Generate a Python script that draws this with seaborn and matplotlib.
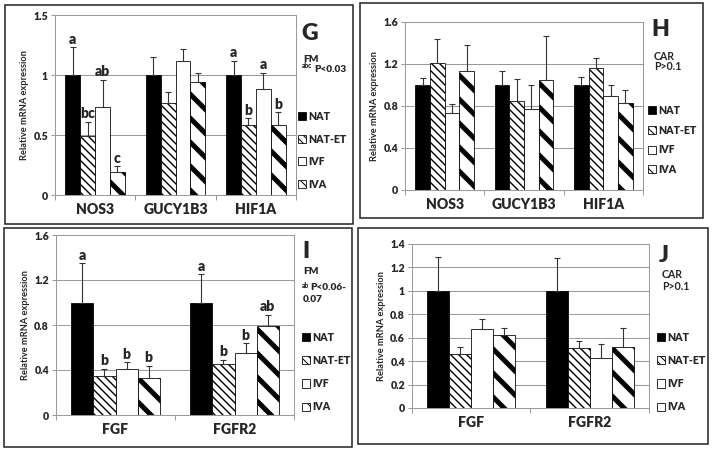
import numpy as np
import pandas as pd
import seaborn as sns
import matplotlib
matplotlib.use("Agg")
from matplotlib import pyplot as plt
from matplotlib.patches import Patch, Rectangle

# ---- data ----
groups = ["NAT", "NAT-ET", "IVF", "IVA"]
genes_gh = ["NOS3", "GUCY1B3", "HIF1A"]
genes_ij = ["FGF", "FGFR2"]

# panel G (FM) - rows follow groups
g_mean = [[1.00, 1.00, 1.00], [0.49, 0.77, 0.58], [0.73, 1.12, 0.88], [0.19, 0.94, 0.58]]
g_se = [[0.23, 0.15, 0.12], [0.12, 0.09, 0.06], [0.23, 0.10, 0.14], [0.05, 0.08, 0.11]]
g_letters = [["a", "", "a"], ["bc", "", "b"], ["ab", "", "a"], ["c", "", "b"]]

# panel H (CAR)
h_mean = [[1.00, 1.00, 1.00], [1.21, 0.85, 1.16], [0.73, 0.77, 0.90], [1.13, 1.05, 0.83]]
h_se = [[0.07, 0.13, 0.08], [0.23, 0.21, 0.10], [0.09, 0.23, 0.10], [0.25, 0.42, 0.12]]

# panel I (FM)
i_mean = [[1.00, 1.00], [0.35, 0.45], [0.41, 0.55], [0.33, 0.79]]
i_se = [[0.35, 0.25], [0.06, 0.04], [0.06, 0.09], [0.11, 0.10]]
i_letters = [["a", "a"], ["b", "b"], ["b", "b"], ["b", "ab"]]

# panel J (CAR)
j_mean = [[1.00, 1.00], [0.465, 0.51], [0.675, 0.43], [0.62, 0.52]]
j_se = [[0.29, 0.28], [0.055, 0.06], [0.085, 0.115], [0.06, 0.16]]

g_yticks = [0, 0.5, 1, 1.5]
h_yticks = [0, 0.4, 0.8, 1.2, 1.6]
i_yticks = [0, 0.4, 0.8, 1.2, 1.6]
j_yticks = [0, 0.2, 0.4, 0.6, 0.8, 1, 1.2, 1.4]

# ---- style ----
sns.set_theme(style="white")
plt.rcParams["font.family"] = ["Lato", "DejaVu Sans"]
BOLD = "heavy"

W, H = 714, 452
DPI = 72
fig = plt.figure(figsize=(W / DPI, H / DPI), dpi=DPI)

palette = {"NAT": "black", "NAT-ET": "white", "IVF": "white", "IVA": "white"}
hatches = {"NAT": "", "NAT-ET": "\\\\\\", "IVF": "", "IVA": "\\"}
hatch_lw = {"NAT": 1, "NAT-ET": 1.4, "IVF": 1, "IVA": 5.0}
GRID = "#9a9a9a"


def add_ax(l, t, r, b):
    return fig.add_axes([l / W, 1 - b / H, (r - l) / W, (b - t) / H])


def set_hlw(p, lw):
    if hasattr(p, "set_hatch_linewidth"):
        p.set_hatch_linewidth(lw)


def panel(ax, genes, means, ses, yticks, ylabels, letters=None):
    rows = []
    for gi, grp in enumerate(groups):
        for ci, gene in enumerate(genes):
            rows.append({"gene": gene, "group": grp, "value": means[gi][ci]})
    df = pd.DataFrame(rows)
    sns.barplot(data=df, x="gene", y="value", hue="group", hue_order=groups,
                order=genes, palette=palette, saturation=1, width=0.74,
                errorbar=None, legend=False, edgecolor="black", linewidth=0.8,
                ax=ax)
    for gi, (cont, grp) in enumerate(zip(ax.containers, groups)):
        xs = []
        for bar in cont:
            bar.set_hatch(hatches[grp])
            set_hlw(bar, hatch_lw[grp])
            xs.append(bar.get_x() + bar.get_width() / 2)
        xs = np.array(xs)
        m = np.array(means[gi])
        s = np.array(ses[gi])
        ax.errorbar(xs, m, yerr=[np.zeros_like(s), s], fmt="none",
                    ecolor="#333333", elinewidth=1.1, capsize=3, capthick=1.1,
                    zorder=3)
        if letters is not None:
            for x, top, lab in zip(xs, m + s, letters[gi]):
                if lab:
                    ax.annotate(lab, (x, top), xytext=(0, 1.5),
                                textcoords="offset points", ha="center",
                                va="bottom", fontsize=14, fontweight=BOLD)
    n = len(genes)
    ax.set_xlim(-0.5, n - 0.5)
    ax.set_ylim(yticks[0], yticks[-1])
    ax.set_yticks(yticks)
    ax.set_yticklabels(ylabels, fontsize=10.5, fontweight=BOLD)
    ax.set_xticks(range(n))
    ax.set_xticklabels(genes, fontsize=14, fontweight=BOLD)
    ax.set_xticks(np.arange(-0.5, n, 1.0), minor=True)
    ax.tick_params(axis="x", which="major", length=0, pad=8)
    ax.tick_params(axis="x", which="minor", length=5, color=GRID, bottom=True,
                   width=1)
    ax.tick_params(axis="y", which="major", length=4, color=GRID, left=True,
                   width=1, pad=3)
    ax.set_xlabel("")
    ax.set_ylabel("Relative mRNA expression", fontsize=9.2, fontweight="bold")
    for y in yticks[1:-1]:
        ax.axhline(y, color=GRID, lw=1, zorder=0)
    for side in ["top", "right", "left", "bottom"]:
        ax.spines[side].set_color(GRID)
        ax.spines[side].set_linewidth(1)
    ax.set_axisbelow(True)


def side_legend(x, y, spacing):
    handles = [Patch(facecolor=palette[g], edgecolor="black", hatch=hatches[g],
                     linewidth=0.8) for g in groups]
    for hdl, g in zip(handles, groups):
        set_hlw(hdl, 1.0 if g == "NAT-ET" else 2.0)
    leg = fig.legend(handles, groups, loc="upper left",
                     bbox_to_anchor=(x / W, 1 - y / H), frameon=False,
                     handlelength=0.8, handleheight=0.8, handletextpad=0.15,
                     labelspacing=spacing, borderpad=0, borderaxespad=0,
                     prop={"weight": BOLD, "size": 10.5})
    return leg


def box(l, t, r, b):
    fig.add_artist(Rectangle((l / W, 1 - b / H), (r - l) / W, (b - t) / H,
                             transform=fig.transFigure, fill=False,
                             edgecolor="#2a2a2a", linewidth=1.6))


def ftext(x, y, s, **kw):
    fig.text(x / W, 1 - y / H, s, **kw)


# panel frames
box(5, 5, 353, 224)
box(360, 3, 703, 218)
box(4, 228, 352, 447)
box(358, 228, 708, 444)

# G
axg = add_ax(55, 15, 296, 195)
panel(axg, genes_gh, g_mean, g_se, g_yticks, ["0", "0.5", "1", "1.5"], g_letters)
ftext(301, 33, "G", fontsize=23, fontweight=BOLD, va="center")
ftext(303, 59, "FM", fontsize=10, fontweight=BOLD, va="center")
ftext(302, 66, "abc", fontsize=6.5, fontweight=BOLD, va="center")
ftext(314, 69, "P<0.03", fontsize=10, fontweight=BOLD, va="center")
side_legend(298, 111, 1.1)

# H
axh = add_ax(405, 22, 643, 190)
panel(axh, genes_gh, h_mean, h_se, h_yticks, ["0", "0.4", "0.8", "1.2", "1.6"])
ftext(651, 29, "H", fontsize=23, fontweight=BOLD, va="center")
ftext(654, 57, "CAR", fontsize=10.5, fontweight="bold", va="center")
ftext(654, 67, "P>0.1", fontsize=10.5, fontweight="bold", va="center")
side_legend(648, 105, 0.82)

# I
axi = add_ax(56, 235, 294, 415)
panel(axi, genes_ij, i_mean, i_se, i_yticks, ["0", "0.4", "0.8", "1.2", "1.6"], i_letters)
ftext(302, 252, "I", fontsize=23, fontweight=BOLD, va="center")
ftext(303, 272, "FM", fontsize=10, fontweight=BOLD, va="center")
ftext(302, 285, "ab", fontsize=6.5, fontweight=BOLD, va="center")
ftext(310, 288, "P<0.06-", fontsize=10, fontweight=BOLD, va="center")
ftext(303, 299, "0.07", fontsize=10, fontweight=BOLD, va="center")
side_legend(302, 332, 1.15)

# J
axj = add_ax(412, 244, 649, 408)
panel(axj, genes_ij, j_mean, j_se, j_yticks,
      ["0", "0.2", "0.4", "0.6", "0.8", "1", "1.2", "1.4"])
ftext(659, 255, "J", fontsize=23, fontweight=BOLD, va="center")
ftext(662, 274, "CAR", fontsize=10.5, fontweight="bold", va="center")
ftext(662, 287, "P>0.1", fontsize=10.5, fontweight="bold", va="center")
side_legend(657, 332, 1.15)

fig.savefig("out.png", dpi=DPI)
